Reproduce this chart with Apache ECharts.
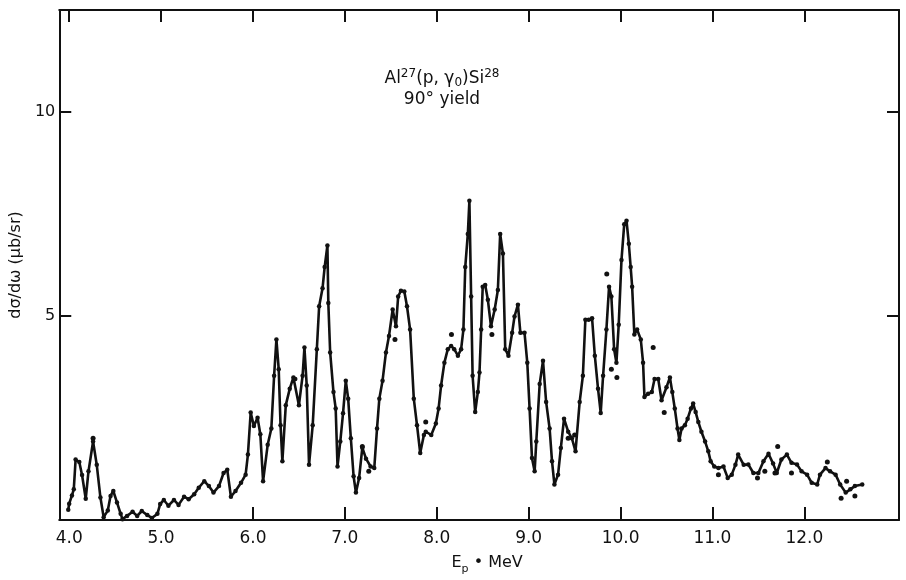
<!DOCTYPE html>
<html>
<head>
<meta charset="utf-8">
<script src="https://cdn.jsdelivr.net/npm/echarts@6/dist/echarts.min.js"></script>
<style>
html,body{margin:0;padding:0;background:#fff;}
#c{width:906px;height:580px;}
</style>
</head>
<body>
<div id="c"></div>
<script>
// Proton energy (MeV) of the connected measurement points
var energy = [3.99,4.00,4.03,4.05,4.07,4.11,4.14,4.18,4.21,4.26,4.30,4.34,4.375,4.42,4.45,4.48,4.52,4.56,4.58,4.63,4.69,4.74,4.79,4.85,4.90,4.96,4.99,5.03,5.08,5.14,5.19,5.25,5.30,5.36,5.41,5.47,5.52,5.57,5.63,5.68,5.72,5.76,5.81,5.87,5.92,5.945,5.975,6.01,6.05,6.08,6.11,6.16,6.20,6.23,6.255,6.28,6.30,6.32,6.357,6.40,6.44,6.46,6.50,6.54,6.56,6.585,6.61,6.65,6.695,6.72,6.757,6.78,6.81,6.82,6.84,6.876,6.90,6.92,6.95,6.98,7.01,7.036,7.065,7.095,7.12,7.155,7.19,7.23,7.28,7.32,7.35,7.375,7.41,7.447,7.48,7.52,7.556,7.58,7.61,7.647,7.676,7.71,7.75,7.785,7.82,7.86,7.88,7.94,7.99,8.02,8.047,8.083,8.12,8.156,8.19,8.23,8.265,8.29,8.31,8.338,8.355,8.374,8.39,8.418,8.447,8.465,8.483,8.50,8.527,8.556,8.59,8.63,8.665,8.69,8.72,8.745,8.78,8.82,8.846,8.883,8.91,8.955,8.985,9.01,9.036,9.065,9.083,9.12,9.156,9.19,9.228,9.254,9.28,9.32,9.35,9.385,9.43,9.47,9.51,9.555,9.59,9.617,9.653,9.69,9.72,9.755,9.784,9.81,9.846,9.875,9.90,9.93,9.955,9.98,10.01,10.04,10.065,10.09,10.11,10.126,10.15,10.18,10.22,10.245,10.26,10.30,10.34,10.37,10.41,10.446,10.50,10.537,10.563,10.59,10.62,10.64,10.664,10.70,10.73,10.766,10.79,10.817,10.846,10.88,10.92,10.955,10.98,11.02,11.065,11.12,11.166,11.21,11.25,11.28,11.34,11.39,11.445,11.50,11.555,11.61,11.66,11.70,11.75,11.81,11.86,11.92,11.97,12.03,12.08,12.14,12.17,12.23,12.28,12.34,12.39,12.45,12.50,12.55,12.63];
// Differential cross-section (microbarn/sr) at each energy above
var crossSection = [0.25,0.40,0.60,0.75,1.48,1.42,1.10,0.52,1.19,1.92,1.35,0.55,0.07,0.23,0.59,0.71,0.43,0.15,0.02,0.10,0.20,0.10,0.22,0.12,0.05,0.15,0.39,0.49,0.35,0.49,0.37,0.57,0.51,0.63,0.79,0.95,0.83,0.67,0.83,1.15,1.23,0.57,0.71,0.91,1.11,1.60,2.63,2.30,2.50,2.10,0.95,1.84,2.24,3.53,4.42,3.69,2.32,1.44,2.81,3.21,3.49,3.45,2.81,3.53,4.22,3.29,1.35,2.32,4.18,5.23,5.67,6.19,6.72,5.31,4.10,3.13,2.73,1.31,1.92,2.61,3.41,2.97,2.00,1.07,0.67,1.03,1.77,1.50,1.31,1.27,2.24,2.97,3.41,4.10,4.50,5.15,4.74,5.47,5.61,5.59,5.23,4.66,2.97,2.32,1.64,2.08,2.16,2.08,2.36,2.73,3.29,3.85,4.18,4.26,4.18,4.02,4.18,4.66,6.19,7.00,7.81,5.47,3.53,2.64,3.13,3.61,4.66,5.71,5.75,5.39,4.74,5.15,5.63,7.00,6.52,4.18,4.02,4.58,4.98,5.27,4.58,4.58,3.85,2.73,1.52,1.19,1.92,3.33,3.90,2.89,2.24,1.44,0.87,1.11,1.76,2.48,2.16,2.00,1.68,2.89,3.53,4.90,4.90,4.94,4.02,3.21,2.62,3.53,4.66,5.71,5.47,4.18,3.85,4.78,6.36,7.24,7.32,6.76,6.19,5.71,4.54,4.66,4.42,3.85,3.01,3.09,3.13,3.45,3.45,2.93,3.25,3.49,3.13,2.73,2.24,1.96,2.24,2.32,2.48,2.73,2.85,2.64,2.40,2.16,1.92,1.68,1.44,1.31,1.27,1.31,1.03,1.11,1.35,1.60,1.35,1.36,1.15,1.15,1.44,1.62,1.38,1.15,1.48,1.60,1.40,1.36,1.19,1.11,0.91,0.87,1.11,1.27,1.19,1.11,0.87,0.67,0.75,0.83,0.87];
// Isolated points of the second run
var extraEnergy = [4.26,7.19,7.26,7.545,7.88,8.16,8.60,9.43,9.50,9.85,9.90,9.96,10.355,10.475,11.065,11.49,11.57,11.68,11.71,11.86,12.25,12.40,12.46,12.55];
var extraSection = [2.00,1.80,1.19,4.42,2.40,4.54,4.54,2.00,2.08,6.02,3.69,3.49,4.22,2.63,1.11,1.03,1.19,1.15,1.80,1.15,1.42,0.53,0.95,0.59];
// Tick values
var xLabelTicks = [4,5,6,7,8,9,10,11,12];
var xBottomTicks = [6,7,8,9,10,11,12];
var yTicks = [5,10];

var mainData = energy.map(function(e,i){return [e, crossSection[i]];});
var extraData = extraEnergy.map(function(e,i){return [e, extraSection[i]];});

var ink = '#111';
var font = '"DejaVu Sans", Verdana, sans-serif';
var chart = echarts.init(document.getElementById('c'), null, {renderer:'canvas'});
var xMin = 3.892, xMax = 13.03, yMax = 12.48;

chart.setOption({
  animation:false,
  backgroundColor:'#fff',
  title:{
    left:437, top:63, textAlign:'center',
    text:'Al{sup|27}(p, γ{sub|0})Si{sup|28}\n90° yield',
    textStyle:{
      fontFamily:font, fontSize:17, fontWeight:'normal', color:ink, lineHeight:21,
      rich:{
        sup:{fontFamily:font, fontSize:12, color:ink, verticalAlign:'top', lineHeight:21},
        sub:{fontFamily:font, fontSize:12, color:ink, verticalAlign:'bottom', lineHeight:21}
      }
    }
  },
  grid:{left:59, right:7, top:10, bottom:54, containLabel:false},
  xAxis:[{
    type:'value', min:xMin, max:xMax, position:'bottom',
    axisLine:{show:true, onZero:false, lineStyle:{color:ink, width:2}},
    axisTick:{show:true, inside:true, length:13, customValues:xBottomTicks, lineStyle:{color:ink, width:2}},
    axisLabel:{show:true, customValues:xLabelTicks, margin:10, color:ink, fontFamily:font, fontSize:17,
      formatter:function(v){return v.toFixed(1);}},
    splitLine:{show:false},
    name:'{a|E}{b|p}{a| • MeV}', nameLocation:'middle', nameGap:35,
    nameTextStyle:{padding:[0,0,0,16], rich:{
      a:{fontFamily:font, fontSize:16, color:ink, verticalAlign:'top', lineHeight:20},
      b:{fontFamily:font, fontSize:11, color:ink, verticalAlign:'bottom', lineHeight:20}
    }}
  },{
    type:'value', min:xMin, max:xMax, position:'top',
    axisLine:{show:true, onZero:false, lineStyle:{color:ink, width:2}},
    axisTick:{show:true, inside:true, length:12, customValues:xLabelTicks, lineStyle:{color:ink, width:2}},
    axisLabel:{show:false},
    splitLine:{show:false}
  }],
  yAxis:[{
    type:'value', min:0, max:yMax, position:'left',
    axisLine:{show:true, onZero:false, lineStyle:{color:ink, width:2}},
    axisTick:{show:true, inside:true, length:12, customValues:yTicks, lineStyle:{color:ink, width:2}},
    axisLabel:{show:true, customValues:yTicks, margin:4, color:ink, fontFamily:font, fontSize:16},
    splitLine:{show:false},
    name:'dσ/dω (μb/sr)', nameLocation:'middle', nameGap:33,
    nameTextStyle:{fontFamily:font, fontSize:16, color:ink}
  },{
    type:'value', min:0, max:yMax, position:'right',
    axisLine:{show:true, onZero:false, lineStyle:{color:ink, width:2}},
    axisTick:{show:true, inside:true, length:12, customValues:yTicks, lineStyle:{color:ink, width:2}},
    axisLabel:{show:false},
    splitLine:{show:false}
  }],
  series:[{
    type:'line', xAxisIndex:0, yAxisIndex:0, data:mainData,
    symbol:'circle', symbolSize:4.5, showSymbol:true,
    lineStyle:{color:ink, width:2.6}, itemStyle:{color:ink, opacity:1},
    clip:true
  },{
    type:'scatter', xAxisIndex:0, yAxisIndex:0, data:extraData,
    symbol:'circle', symbolSize:5, itemStyle:{color:ink, opacity:1}
  }]
});
</script>
</body>
</html>
